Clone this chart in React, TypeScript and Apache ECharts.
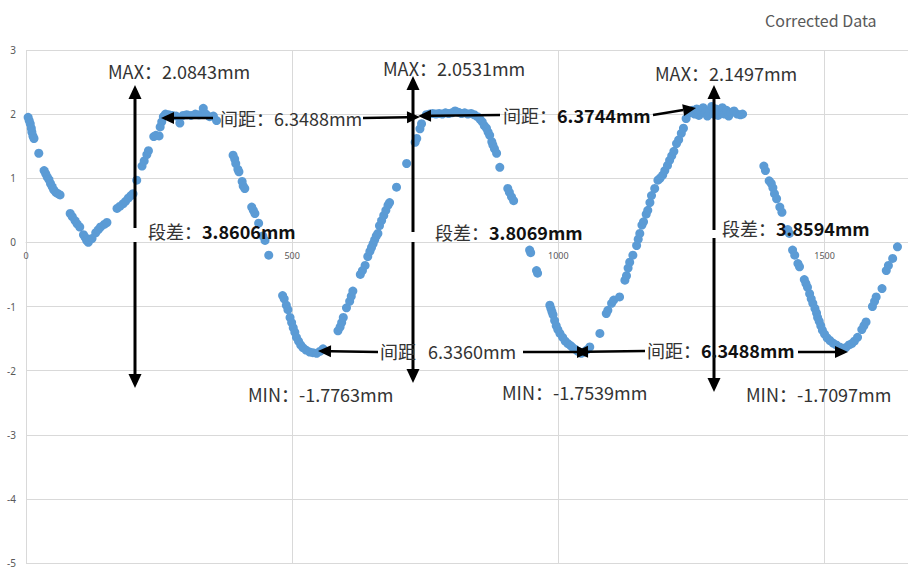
import React, { useEffect, useRef } from "react";
import * as echarts from "echarts";

// Positions along the profile (x) and corrected height in mm (y)
const positions = [
  4, 6, 8, 10, 11, 13, 15, 24, 34, 37, 40, 43, 46, 49, 52, 56, 60, 64,
  83, 87, 92, 96, 101, 108, 111, 114, 117, 120, 124, 131, 136, 140, 147, 152,
  171, 176, 182, 187, 192, 197, 201,
  208, 218, 222, 227, 230, 240, 244, 250, 252, 255, 258, 262, 268, 275, 282, 289, 295, 302, 310, 318, 325, 333, 338, 345, 352, 358,
  389, 392, 394, 398, 400, 406, 408, 411, 424, 427, 430, 437, 445, 449, 456,
  482, 485, 489, 492, 496, 499, 502, 505, 508, 512, 516, 520, 526, 533, 539, 546, 552, 558,
  586, 590, 593, 596, 602, 608, 611, 614, 628, 632, 637, 642, 646, 649, 652, 655, 658, 661, 664, 668, 672, 676, 680, 683, 696,
  715, 731, 734, 740, 743,
  752, 758, 764, 770, 776, 782, 788, 794, 800, 806, 812, 818, 824, 830, 836, 842, 848, 853, 857, 861, 865, 868, 871, 875, 877, 880, 884, 890,
  905, 908, 912, 916,
  946, 948, 959, 961,
  984, 986, 988, 990, 993, 996, 999, 1003, 1008, 1013, 1018, 1023, 1027, 1032, 1037, 1043, 1048, 1053, 1059,
  1078, 1090, 1093, 1100, 1104, 1115,
  1125, 1128, 1131, 1134, 1140, 1147, 1150, 1153, 1157, 1160, 1165, 1168, 1172, 1175, 1181, 1187, 1191, 1196, 1200, 1205, 1209, 1213, 1217, 1222, 1226, 1231, 1235, 1240,
  1247, 1252, 1256, 1260, 1264, 1268, 1272, 1276, 1280, 1284, 1288, 1292, 1296, 1300, 1304, 1308, 1312, 1316, 1320, 1324, 1330, 1336, 1342, 1346,
  1386, 1389, 1396, 1400, 1403, 1406, 1410, 1416, 1420, 1431, 1434, 1440, 1444, 1450, 1453, 1462, 1465, 1468, 1472, 1475, 1478, 1482, 1485, 1487, 1490, 1493, 1496, 1500, 1505, 1510, 1516, 1522, 1528, 1534, 1540, 1546, 1551, 1556, 1562, 1570, 1574, 1578, 1590, 1594, 1597, 1608, 1616, 1620, 1628, 1637,
];

const heights = [
  1.95, 1.9, 1.85, 1.78, 1.72, 1.66, 1.62, 1.39, 1.12, 1.07, 1.02, 0.98, 0.92, 0.87, 0.82, 0.78, 0.76, 0.74,
  0.45, 0.4, 0.34, 0.29, 0.24, 0.12, 0.08, 0.03, 0.0, 0.05, 0.06, 0.15, 0.2, 0.24, 0.28, 0.31,
  0.53, 0.56, 0.6, 0.64, 0.69, 0.73, 0.76,
  0.97, 1.19, 1.27, 1.37, 1.43, 1.65, 1.67, 1.66, 1.8, 1.88, 1.96, 2.0, 1.99, 1.98, 1.97, 1.86, 1.98, 1.99, 1.98, 2.0, 1.99, 2.09, 2.0, 1.96, 1.97, 1.9,
  1.36, 1.3, 1.23, 1.14, 1.1, 0.95, 0.88, 0.84, 0.55, 0.5, 0.45, 0.3, 0.1, 0.03, -0.2,
  -0.83, -0.88, -0.98, -1.05, -1.17, -1.25, -1.33, -1.4, -1.48, -1.54, -1.6, -1.64, -1.68, -1.71, -1.72, -1.73, -1.7, -1.66,
  -1.38, -1.32, -1.25, -1.17, -1.02, -0.92, -0.84, -0.76, -0.5, -0.44, -0.36, -0.22, -0.14, -0.08, -0.02, 0.04, 0.1, 0.14, 0.26, 0.34, 0.42, 0.5, 0.58, 0.62, 0.86,
  1.23, 1.56, 1.62, 1.77, 1.85,
  1.99, 2.0, 2.01, 2.0, 2.01, 2.0, 2.02, 2.01, 2.02, 2.05, 2.03, 2.01, 2.02, 2.0, 2.01, 1.99, 1.96, 1.92, 1.88, 1.82, 1.78, 1.72, 1.67, 1.57, 1.52, 1.46, 1.39, 1.17,
  0.84, 0.78, 0.71, 0.65,
  -0.12, -0.16, -0.44, -0.48,
  -0.98, -1.03, -1.08, -1.13, -1.22, -1.3, -1.36, -1.42, -1.48, -1.54, -1.58, -1.61, -1.64, -1.67, -1.7, -1.73, -1.71, -1.68, -1.63,
  -1.42, -1.11, -1.06, -0.95, -0.9, -0.85,
  -0.59, -0.52, -0.4, -0.31, -0.2, -0.05, 0.05, 0.14, 0.27, 0.32, 0.44, 0.5, 0.62, 0.73, 0.84, 0.97, 1.0, 1.05, 1.12, 1.2, 1.28, 1.35, 1.42, 1.54, 1.6, 1.7, 1.78, 1.93,
  2.02, 2.06, 2.0, 2.08, 1.98, 2.05, 2.1, 2.02, 1.97, 2.06, 2.12, 2.0, 2.08, 1.98, 2.04, 2.1, 2.0, 2.06, 1.97, 2.02, 2.05, 2.0, 1.99, 2.0,
  1.19, 1.12, 0.96, 0.92, 0.85, 0.76, 0.68, 0.55, 0.47, 0.2, 0.14, -0.12, -0.2, -0.33, -0.38, -0.58, -0.64, -0.7, -0.8, -0.88, -0.95, -1.03, -1.1, -1.17, -1.23, -1.3, -1.37, -1.43, -1.49, -1.53, -1.57, -1.6, -1.63, -1.65, -1.64, -1.6, -1.58, -1.54, -1.48, -1.36, -1.3, -1.24, -1.0, -0.92, -0.85, -0.72, -0.44, -0.36, -0.25, -0.07,
];

const xTicks = [0, 500, 1000, 1500];
const seriesName = "Corrected Data";

const maxLabels = ["MAX：2.0843mm", "MAX：2.0531mm", "MAX：2.1497mm"];
const minLabels = ["MIN：-1.7763mm", "MIN：-1.7539mm", "MIN：-1.7097mm"];
const stepValues = ["3.8606mm", "3.8069mm", "3.8594mm"];
const pitchValues = ["6.3488mm", "6.3744mm", "6.3360mm", "6.3488mm"];

const FONT = '"Noto Sans CJK SC", "Noto Sans", sans-serif';
const TEXT_COLOR = "#333333";

function head(tipX: number, tipY: number, fromX: number, fromY: number, len: number, half: number) {
  const dx = tipX - fromX;
  const dy = tipY - fromY;
  const d = Math.sqrt(dx * dx + dy * dy) || 1;
  const ux = dx / d;
  const uy = dy / d;
  const bx = tipX - ux * len;
  const by = tipY - uy * len;
  const nx = -uy;
  const ny = ux;
  return {
    base: [bx, by],
    el: {
      type: "polygon",
      shape: {
        points: [
          [tipX, tipY],
          [bx + nx * half, by + ny * half],
          [bx - nx * half, by - ny * half],
        ],
      },
      style: { fill: "#000" },
      z: 100,
    },
  };
}

function arrow(x1: number, y1: number, x2: number, y2: number, lw = 2.5) {
  const h = head(x2, y2, x1, y1, 13, 6);
  return [
    {
      type: "line",
      shape: { x1, y1, x2: h.base[0], y2: h.base[1] },
      style: { stroke: "#000", lineWidth: lw },
      z: 100,
    },
    h.el,
  ];
}

function vArrow(x: number, top: number, gap1: number, gap2: number, bottom: number) {
  const ht = head(x, top, x, top + 20, 14, 6.5);
  const hb = head(x, bottom, x, bottom - 20, 14, 6.5);
  return [
    { type: "line", shape: { x1: x, y1: ht.base[1], x2: x, y2: gap1 }, style: { stroke: "#000", lineWidth: 3 }, z: 100 },
    { type: "line", shape: { x1: x, y1: gap2, x2: x, y2: hb.base[1] }, style: { stroke: "#000", lineWidth: 3 }, z: 100 },
    ht.el,
    hb.el,
  ];
}

function txt(x: number, y: number, text: string, size = 18, color = TEXT_COLOR) {
  return {
    type: "text",
    x,
    y,
    z: 101,
    style: {
      text,
      font: `${size}px ${FONT}`,
      fill: color,
      align: "left",
      verticalAlign: "middle",
      textAlign: "left",
      textVerticalAlign: "middle",
    },
  };
}

function richTxt(x: number, y: number, label: string, value: string, boldValue: boolean) {
  return {
    type: "text",
    x,
    y,
    z: 101,
    style: {
      text: `{a|${label}}{b|${value}}`,
      align: "left",
      verticalAlign: "middle",
      textAlign: "left",
      textVerticalAlign: "middle",
      rich: {
        a: { fontSize: 18, fontFamily: FONT, fill: TEXT_COLOR },
        b: { fontSize: 18, fontFamily: FONT, fill: boldValue ? "#111" : TEXT_COLOR, fontWeight: boldValue ? "bold" : "normal" },
      },
    },
  };
}

export default function App() {
  const ref = useRef<HTMLDivElement>(null);

  useEffect(() => {
    if (!ref.current) return;
    const chart = echarts.init(ref.current, undefined, { renderer: "svg" });
    const data = positions.map((x, i) => [x, heights[i]]);

    const graphics: any[] = [
      txt(765, 20, seriesName, 16, "#595959"),
      // MAX labels
      txt(108, 71, maxLabels[0]),
      txt(383, 68, maxLabels[1]),
      txt(655, 73, maxLabels[2]),
      // MIN labels
      txt(248, 394, minLabels[0]),
      txt(502, 392, minLabels[1]),
      txt(746, 394, minLabels[2]),
      // step labels
      richTxt(148, 231, "段差：", stepValues[0], true),
      richTxt(435, 232, "段差：", stepValues[1], true),
      richTxt(722, 228, "段差：", stepValues[2], true),
      // pitch labels
      richTxt(220, 118, "间距：", pitchValues[0], false),
      richTxt(503, 115, "间距：", pitchValues[1], true),
      txt(380, 351, "间距"),
      txt(428, 351, pitchValues[2]),
      richTxt(647, 350, "间距：", pitchValues[3], true),
      // vertical arrows
      ...vArrow(135, 85, 228, 242, 388),
      ...vArrow(413, 76, 232, 242, 383),
      ...vArrow(714, 85, 230, 238, 392),
      // horizontal arrows
      ...arrow(213, 118, 161, 118),
      ...arrow(363, 118, 420, 117),
      ...arrow(500, 115, 418, 116),
      ...arrow(653, 115, 696, 108),
      ...arrow(378, 352, 318, 351),
      ...arrow(523, 352, 590, 352),
      ...arrow(645, 351, 575, 352),
      ...arrow(798, 352, 848, 352),
    ];

    chart.setOption({
      animation: false,
      backgroundColor: "#ffffff",
      textStyle: { fontFamily: FONT },
      grid: { left: 26, top: 50, width: 905, height: 513, containLabel: false, outerBoundsMode: "none" },
      xAxis: {
        type: "value",
        min: 0,
        max: 1700,
        interval: 500,
        position: "bottom",
        offset: -321,
        axisLine: { show: true, onZero: false, lineStyle: { color: "#d9d9d9", width: 1 } },
        axisTick: { show: false },
        axisLabel: {
          fontSize: 9,
          color: "#595959",
          margin: 9,
          fontFamily: '"Noto Sans", sans-serif',
          formatter: (v: number) => (xTicks.includes(v) ? String(v) : ""),
        },
        splitLine: { show: true, lineStyle: { color: "#d9d9d9", width: 1 } },
      },
      yAxis: {
        type: "value",
        min: -5,
        max: 3,
        interval: 1,
        axisLine: { show: false },
        axisTick: { show: false },
        axisLabel: { fontSize: 10, color: "#595959", margin: 10, fontFamily: '"Noto Sans", sans-serif' },
        splitLine: { show: true, lineStyle: { color: "#d9d9d9", width: 1 } },
      },
      series: [
        {
          name: seriesName,
          type: "scatter",
          data,
          symbol: "circle",
          symbolSize: 9,
          itemStyle: { color: "#5b9bd5", opacity: 1 },
        },
      ],
      graphic: graphics,
    });

    return () => chart.dispose();
  }, []);

  return (
    <div
      ref={ref}
      style={{ position: "absolute", left: 0, top: 0, width: 908, height: 573, overflow: "hidden", background: "#fff" }}
    />
  );
}
